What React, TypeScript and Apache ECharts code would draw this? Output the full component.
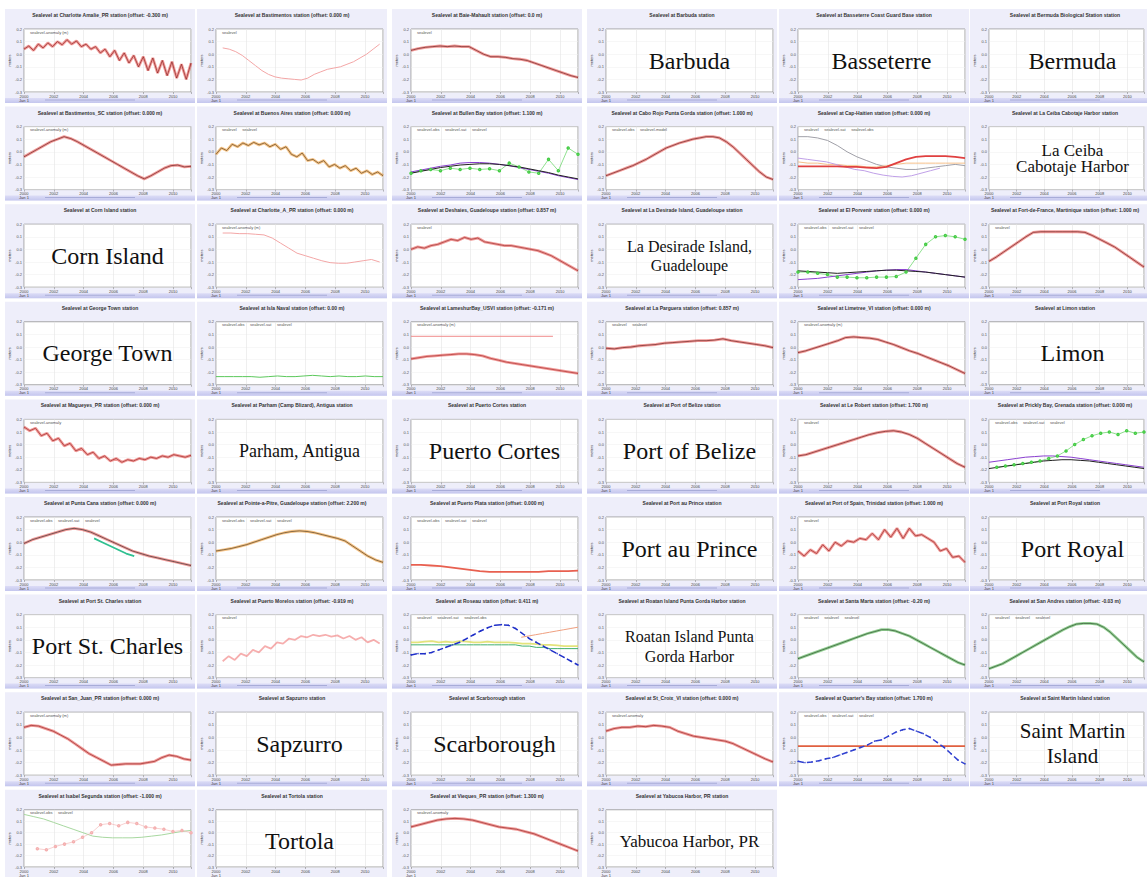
import React, { useEffect, useRef } from "react";
import * as echarts from "echarts";

// ---------- tick labels ----------
const X_TICKS = ["2000\nJan 1", "2002", "2004", "2006", "2008", "2010"];
const Y_TICKS = ["-0.3", "-0.2", "-0.1", "0.0", "0.1", "0.2"];

// ---------- series values (0 = bottom of plot, 10 = top) ----------
const CHARLOTTE_AMALIE = [6.8, 7.3, 6.6, 7.6, 7.0, 7.8, 7.2, 8.0, 7.5, 8.3, 7.6, 8.1, 7.2, 7.6, 6.8, 7.2, 6.2, 6.8, 5.6, 6.6, 5.0, 6.2, 4.6, 5.8, 4.0, 5.6, 3.4, 5.4, 3.0, 5.0, 2.6, 4.8, 2.2, 4.4, 2.0, 4.6];
const BASTIMENTOS = [7.0, 6.8, 6.4, 5.8, 5.0, 4.2, 3.4, 2.8, 2.4, 2.2, 2.1, 2.0, 1.9, 2.2, 2.8, 3.2, 3.6, 3.8, 4.0, 4.4, 4.8, 5.4, 6.0, 6.8, 7.6];
const BAIE_MAHAULT = [6.6, 6.9, 7.1, 7.2, 7.3, 7.2, 7.3, 7.2, 7.2, 6.6, 6.0, 5.6, 5.6, 5.5, 5.3, 5.2, 5.0, 4.6, 4.2, 3.8, 3.4, 3.0, 2.6, 2.3];
const BASTIMENTOS_SC = [5.2, 5.8, 6.4, 7.0, 7.6, 8.0, 8.4, 8.1, 7.6, 7.0, 6.4, 5.8, 5.2, 4.6, 4.0, 3.4, 2.8, 2.2, 1.7, 2.2, 2.8, 3.4, 3.8, 3.9, 3.6, 3.7];
const BUENOS_AIRES = [5.6, 6.6, 6.2, 7.2, 6.8, 7.4, 7.0, 7.5, 7.1, 7.4, 6.8, 7.2, 6.4, 6.8, 5.6, 5.2, 5.8, 4.6, 4.8, 4.2, 4.6, 3.6, 4.0, 3.4, 3.8, 3.0, 3.4, 2.6, 3.0, 2.4, 2.8, 2.2];
const BULLEN_BLACK = [2.6, 2.9, 3.2, 3.5, 3.7, 3.9, 4.0, 4.1, 4.1, 4.0, 3.8, 3.6, 3.3, 3.0, 2.7, 2.3, 2.0, 1.7];
const BULLEN_PURPLE = [2.8, 3.1, 3.4, 3.7, 3.9, 4.2, 4.3, 4.3, 4.2, 4.0, 3.8, 3.5, 3.2, 2.9, 2.6, 2.2, 1.9, 1.6];
const BULLEN_GREEN = [2.6, 3.0, 3.2, 3.0, 3.4, 3.2, 3.4, 3.2, 3.3, 3.0, 4.2, 3.6, 2.8, 2.6, 4.8, 3.0, 6.6, 5.6];
const CABO_ROJO = [2.2, 2.6, 3.0, 3.4, 3.8, 4.3, 4.8, 5.4, 6.0, 6.6, 7.0, 7.4, 7.7, 8.0, 8.2, 8.4, 8.4, 8.2, 7.6, 6.8, 5.8, 4.8, 3.8, 2.8, 2.0, 1.6];
const CAP_GREY = [8.4, 8.4, 8.2, 7.8, 7.0, 6.0, 5.2, 4.6, 4.0, 3.6, 3.4, 3.2, 3.2, 3.4, 3.6, 3.8, 4.0, 3.8];
const CAP_RED = [3.7, 3.7, 3.7, 3.7, 3.7, 3.6, 3.6, 3.5, 3.4, 3.6, 4.2, 4.8, 5.2, 5.3, 5.3, 5.3, 5.2, 5.0];
const CAP_PURPLE = [5.0, 4.8, 4.6, 4.4, 4.0, 3.6, 3.2, 3.0, 2.6, 2.3, 2.1, 2.0, 2.2, 2.6, 3.0, 3.4];
const CAP_ORANGE = [4.4, 4.2, 4.2, 4.0, 4.0, 3.8, 3.8, 3.6, 3.6, 3.8, 4.0, 4.2, 4.2, 4.2, 4.2, 4.2, 4.2, 4.2];
const CHARLOTTE_A = [8.6, 8.6, 8.5, 8.5, 8.4, 8.3, 7.8, 7.0, 6.2, 5.4, 5.0, 4.6, 4.2, 3.9, 3.8, 3.8, 4.0, 4.2, 4.4, 4.0];
const DESHAIES = [6.0, 6.4, 6.2, 6.6, 6.8, 7.2, 7.6, 7.4, 7.9, 7.6, 7.8, 7.2, 7.0, 6.8, 6.6, 6.6, 6.4, 6.2, 6.0, 5.8, 5.4, 5.0, 4.4, 3.8, 3.2, 2.6];
const PORVENIR_GREEN = [2.4, 2.4, 2.2, 2.0, 1.6, 1.6, 1.5, 1.5, 1.6, 1.6, 1.7, 2.4, 4.6, 6.8, 8.0, 8.2, 8.0, 7.6];
const PORVENIR_PURPLE = [1.2, 1.3, 1.4, 1.6, 1.8, 2.0, 2.2, 2.4, 2.6, 2.7, 2.8, 2.8, 2.6, 2.4, 2.2, 2.0, 1.8, 1.6];
const PORVENIR_BLACK = [2.6, 2.5, 2.4, 2.3, 2.2, 2.3, 2.4, 2.5, 2.6, 2.7, 2.7, 2.6, 2.5, 2.4, 2.2, 2.0, 1.8, 1.6];
const FORT_DE_FRANCE = [4.1, 4.8, 5.6, 6.4, 7.2, 8.0, 8.7, 8.8, 8.8, 8.8, 8.8, 8.8, 8.8, 8.7, 8.2, 7.6, 7.0, 6.4, 5.6, 4.8, 4.0, 3.2];
const ISLA_NAVAL = [1.3, 1.3, 1.3, 1.3, 1.3, 1.2, 1.3, 1.4, 1.3, 1.3, 1.4, 1.5, 1.4, 1.3, 1.4, 1.3, 1.3, 1.4, 1.3, 1.3];
const LAMESHUR = [4.1, 4.3, 4.5, 4.6, 4.7, 4.8, 4.9, 4.9, 4.8, 4.6, 4.2, 3.9, 3.6, 3.4, 3.2, 3.0, 2.8, 2.6, 2.4, 2.2, 2.0, 1.8];
const LAMESHUR_REF = [7.7, 7.7];
const LA_PARGUERA = [5.8, 5.7, 5.9, 6.0, 6.2, 6.3, 6.4, 6.6, 6.7, 6.8, 6.9, 7.0, 7.0, 7.1, 7.3, 7.0, 6.8, 6.6, 6.4, 6.2, 5.9];
const LIMETREE = [5.1, 5.4, 5.8, 6.2, 6.6, 7.0, 7.5, 7.6, 7.5, 7.4, 7.2, 6.8, 6.4, 5.9, 5.4, 5.0, 4.5, 4.0, 3.5, 3.0, 2.4, 1.8];
const MAGUEYES = [8.8, 8.2, 8.6, 7.4, 7.8, 6.6, 7.0, 5.8, 6.2, 5.0, 5.4, 4.4, 4.8, 3.8, 4.2, 3.4, 3.8, 3.2, 3.6, 3.4, 3.8, 3.6, 4.0, 3.8, 4.2, 4.0, 4.4, 4.2, 4.0, 4.3];
const LE_ROBERT = [4.2, 4.4, 4.8, 5.2, 5.6, 6.0, 6.4, 6.8, 7.2, 7.6, 7.9, 8.1, 8.2, 8.0, 7.6, 7.0, 6.2, 5.4, 4.6, 3.8, 3.0, 2.4];
const PRICKLY_GREEN = [2.4, 2.6, 2.8, 3.0, 3.2, 3.4, 3.8, 4.2, 5.0, 6.0, 6.8, 7.4, 7.8, 8.0, 7.6, 8.2, 7.8, 8.0];
const PRICKLY_PURPLE = [3.2, 3.4, 3.6, 3.8, 4.0, 4.1, 4.2, 4.2, 4.1, 4.0, 3.8, 3.6, 3.4, 3.2, 3.0, 2.8, 2.6, 2.4];
const PRICKLY_BLACK = [2.2, 2.4, 2.6, 2.8, 3.0, 3.2, 3.4, 3.5, 3.6, 3.6, 3.5, 3.4, 3.2, 3.0, 2.8, 2.6, 2.4, 2.2];
const PUNTA_CANA = [5.8, 6.4, 6.8, 7.2, 7.6, 8.0, 8.2, 8.0, 7.6, 7.0, 6.4, 5.8, 5.2, 4.6, 4.2, 3.8, 3.5, 3.2, 2.9, 2.6, 2.3];
const PUNTA_CANA_GREEN = [6.6, 6.0, 5.4, 4.8, 4.2, 3.8];
const POINTE_A_PITRE = [4.6, 4.8, 5.0, 5.3, 5.6, 6.0, 6.4, 6.8, 7.2, 7.5, 7.7, 7.8, 7.7, 7.5, 7.2, 6.9, 6.6, 6.2, 5.4, 4.6, 3.8, 3.2, 2.8];
const PUERTO_PLATA = [2.4, 2.4, 2.3, 2.2, 2.0, 1.8, 1.6, 1.4, 1.3, 1.3, 1.3, 1.3, 1.3, 1.3, 1.4, 1.4, 1.4, 1.5];
const PORT_OF_SPAIN = [4.6, 3.8, 4.8, 4.2, 5.6, 4.6, 6.0, 5.4, 6.2, 6.0, 6.6, 6.4, 7.4, 6.4, 8.0, 6.8, 8.2, 6.6, 8.2, 7.0, 7.2, 6.6, 6.0, 4.6, 5.0, 3.6, 3.8, 2.8];
const PUERTO_MORELOS = [2.6, 3.4, 2.8, 3.8, 3.4, 4.4, 4.0, 5.0, 4.6, 5.6, 5.4, 6.2, 6.0, 6.6, 6.4, 6.8, 6.6, 6.8, 6.5, 6.7, 6.2, 6.6, 6.0, 6.4, 5.6, 6.0, 5.4];
const ROSEAU_BLUE = [3.6, 3.8, 3.8, 4.0, 4.4, 4.8, 5.2, 5.6, 6.2, 6.8, 7.4, 7.9, 8.3, 8.4, 8.3, 7.8, 7.0, 6.2, 5.6, 5.0, 4.4, 3.8, 3.2, 2.6, 2.0];
const ROSEAU_YELLOW = [5.6, 5.6, 5.7, 5.8, 5.6, 5.7, 5.6, 5.8, 5.7, 5.6, 5.6, 5.7, 5.6, 5.6, 5.6, 5.5, 5.4, 5.4, 5.3, 5.2, 5.2, 5.1, 5.0, 5.0, 5.0];
const ROSEAU_GREEN = [5.2, 5.2, 5.2, 5.2, 5.2, 5.2, 5.2, 5.2, 5.2, 5.2, 5.2, 5.2, 5.2, 5.2, 5.2, 5.2, 5.0, 5.0, 4.8, 4.8, 4.6, 4.6, 4.6, 4.6, 4.6];
const ROSEAU_ORANGE = [6.4, 6.6, 6.8, 7.0, 7.2, 7.4, 7.6, 7.8, 8.0];
const SANTA_MARTA = [3.0, 3.4, 3.8, 4.2, 4.6, 5.0, 5.4, 5.8, 6.2, 6.6, 7.0, 7.3, 7.6, 7.6, 7.4, 7.0, 6.6, 6.0, 5.4, 4.8, 4.2, 3.6, 3.0, 2.4, 2.0];
const SAN_ANDRES = [1.4, 1.8, 2.2, 2.8, 3.4, 4.0, 4.6, 5.2, 5.8, 6.4, 7.0, 7.6, 8.1, 8.5, 8.6, 8.6, 8.5, 8.0, 7.2, 6.2, 5.2, 4.2, 3.2, 2.5];
const SAN_JUAN = [7.6, 7.9, 7.8, 7.4, 7.0, 6.4, 5.8, 5.0, 4.2, 3.4, 2.8, 2.2, 1.6, 1.7, 1.8, 1.8, 1.8, 2.0, 2.2, 2.8, 3.2, 3.0, 2.6, 2.4];
const ST_CROIX = [7.0, 7.4, 7.6, 7.6, 7.8, 7.7, 7.9, 7.8, 7.6, 7.0, 6.6, 6.2, 6.0, 5.8, 5.6, 5.4, 5.0, 4.4, 3.8, 3.2, 2.6, 2.1];
const QUARTERS_BAY = [2.2, 2.0, 2.1, 2.3, 2.6, 2.8, 3.2, 3.6, 4.0, 4.4, 4.8, 5.4, 5.6, 6.2, 6.8, 7.2, 7.4, 7.0, 6.6, 6.0, 5.2, 4.4, 3.4, 2.4, 1.8];
const QUARTERS_REF = [4.6, 4.6];
const ISABEL_GREEN = [9.2, 8.8, 8.4, 7.8, 7.2, 6.6, 6.0, 5.4, 5.2, 5.1, 5.1, 5.1, 5.2, 5.4, 5.6, 5.9, 6.2, 6.4];
const ISABEL_PINK = [3.2, 3.0, 3.6, 4.0, 4.4, 5.2, 6.0, 7.4, 7.6, 7.2, 7.8, 7.6, 7.0, 6.8, 6.6, 6.2, 6.4, 6.0];
const VIEQUES = [7.0, 7.4, 7.8, 8.2, 8.4, 8.5, 8.4, 8.2, 7.8, 7.4, 7.0, 6.8, 6.6, 6.2, 5.8, 5.2, 4.6, 4.0, 3.4, 2.8];

// ---------- station panels, in reading order ----------
type S = { data: number[]; kind: string; color: string; dark?: string; start?: number; end?: number };
type P = { title: string; label?: string; size?: number; lh?: number; legend?: string; series?: S[] };

const RED_BAND = "rgba(229,57,53,0.5)";
const ORANGE_BAND = "rgba(240,150,40,0.55)";
const GREEN_BAND = "rgba(60,170,60,0.55)";
const PINK = "#f3a6a6";

const PANELS: P[] = [
  { title: "Sealevel at Charlotte Amalie_PR station (offset: -0.300 m)", legend: "sealevel-anomaly (m)", series: [{ data: CHARLOTTE_AMALIE, kind: "band", color: RED_BAND, dark: "#7a1010" }] },
  { title: "Sealevel at Bastimentos station (offset: 0.000 m)", legend: "sealevel", series: [{ data: BASTIMENTOS, kind: "thin", color: PINK, start: 0.04, end: 0.98 }] },
  { title: "Sealevel at Baie-Mahault station (offset: 0.0 m)", legend: "sealevel", series: [{ data: BAIE_MAHAULT, kind: "band", color: RED_BAND, dark: "#5a1010" }] },
  { title: "Sealevel at Barbuda station", label: "Barbuda" },
  { title: "Sealevel at Basseterre Coast Guard Base station", label: "Basseterre" },
  { title: "Sealevel at Bermuda Biological Station station", label: "Bermuda" },

  { title: "Sealevel at Bastimentos_SC station (offset: 0.000 m)", legend: "sealevel-anomaly (m)", series: [{ data: BASTIMENTOS_SC, kind: "band", color: RED_BAND, dark: "#5a1010" }] },
  { title: "Sealevel at Buenos Aires station (offset: 0.000 m)", legend: "sealevel     sealevel", series: [{ data: BUENOS_AIRES, kind: "band", color: ORANGE_BAND, dark: "#4a3010" }] },
  { title: "Sealevel at Bullen Bay station (offset: 1.100 m)", legend: "sealevel-obs     sealevel-sat     sealevel", series: [
    { data: BULLEN_GREEN, kind: "dots", color: "#44cc44" },
    { data: BULLEN_PURPLE, kind: "thin", color: "#8a3fd0" },
    { data: BULLEN_BLACK, kind: "thin", color: "#202020" },
  ] },
  { title: "Sealevel at Cabo Rojo Punta Gorda station (offset: 1.000 m)", legend: "sealevel-obs     sealevel-model", series: [{ data: CABO_ROJO, kind: "band", color: RED_BAND, dark: "#5a1010" }] },
  { title: "Sealevel at Cap-Haitien station (offset: 0.000 m)", legend: "sealevel     sealevel-sat     sealevel-obs", series: [
    { data: CAP_GREY, kind: "thin", color: "#a0a0a8" },
    { data: CAP_ORANGE, kind: "thin", color: "#f6c08a" },
    { data: CAP_PURPLE, kind: "thin", color: "#c0a0e8", end: 0.85 },
    { data: CAP_RED, kind: "thick", color: "#e04040" },
  ] },
  { title: "Sealevel at La Ceiba Cabotaje Harbor station", label: "La Ceiba\nCabotaje Harbor", size: 17, lh: 16 },

  { title: "Sealevel at Corn Island station", label: "Corn Island" },
  { title: "Sealevel at Charlotte_A_PR station (offset: 0.000 m)", legend: "sealevel-anomaly (m)", series: [{ data: CHARLOTTE_A, kind: "thin", color: PINK, start: 0.04, end: 0.98 }] },
  { title: "Sealevel at Deshaies, Guadeloupe station (offset: 0.857 m)", legend: "sealevel", series: [{ data: DESHAIES, kind: "band", color: RED_BAND, dark: "#902020" }] },
  { title: "Sealevel at La Desirade Island, Guadeloupe station", label: "La Desirade Island,\nGuadeloupe", size: 16, lh: 19 },
  { title: "Sealevel at El Porvenir station (offset: 0.000 m)", legend: "sealevel-obs     sealevel-sat     sealevel", series: [
    { data: PORVENIR_GREEN, kind: "dots", color: "#44cc44" },
    { data: PORVENIR_PURPLE, kind: "thin", color: "#8a3fd0" },
    { data: PORVENIR_BLACK, kind: "thin", color: "#202020" },
  ] },
  { title: "Sealevel at Fort-de-France, Martinique station (offset: 1.000 m)", legend: "sealevel", series: [{ data: FORT_DE_FRANCE, kind: "band", color: RED_BAND, dark: "#5a1010" }] },

  { title: "Sealevel at George Town station", label: "George Town" },
  { title: "Sealevel at Isla Naval station (offset: 0.00 m)", legend: "sealevel-obs     sealevel-sat     sealevel", series: [{ data: ISLA_NAVAL, kind: "thin", color: "#5cc85c" }] },
  { title: "Sealevel at LameshurBay_USVI station (offset: -0.171 m)", legend: "sealevel-anomaly (m)", series: [
    { data: LAMESHUR_REF, kind: "thin", color: "#f08a8a", end: 0.85 },
    { data: LAMESHUR, kind: "band", color: RED_BAND, dark: "#a02020" },
  ] },
  { title: "Sealevel at La Parguera station (offset: 0.857 m)", legend: "sealevel     sealevel", series: [{ data: LA_PARGUERA, kind: "band", color: RED_BAND, dark: "#5a1010" }] },
  { title: "Sealevel at Limetree_VI station (offset: 0.000 m)", legend: "sealevel-anomaly (m)", series: [{ data: LIMETREE, kind: "band", color: RED_BAND, dark: "#5a1010" }] },
  { title: "Sealevel at Limon station", label: "Limon" },

  { title: "Sealevel at Magueyes_PR station (offset: 0.000 m)", legend: "sealevel-anomaly", series: [{ data: MAGUEYES, kind: "band", color: RED_BAND, dark: "#901818" }] },
  { title: "Sealevel at Parham (Camp Blizard), Antigua station", label: "Parham, Antigua", size: 18 },
  { title: "Sealevel at Puerto Cortes station", label: "Puerto Cortes" },
  { title: "Sealevel at Port of Belize station", label: "Port of Belize" },
  { title: "Sealevel at Le Robert station (offset: 1.700 m)", legend: "sealevel", series: [{ data: LE_ROBERT, kind: "band", color: RED_BAND, dark: "#5a1010" }] },
  { title: "Sealevel at Prickly Bay, Grenada station (offset: 0.000 m)", legend: "sealevel-obs     sealevel-sat     sealevel", series: [
    { data: PRICKLY_GREEN, kind: "dots", color: "#44cc44", start: 0.05 },
    { data: PRICKLY_PURPLE, kind: "thin", color: "#8a3fd0" },
    { data: PRICKLY_BLACK, kind: "thin", color: "#202020" },
  ] },

  { title: "Sealevel at Punta Cana station (offset: 0.000 m)", legend: "sealevel-obs     sealevel-sat     sealevel", series: [
    { data: PUNTA_CANA, kind: "band", color: RED_BAND, dark: "#202020" },
    { data: PUNTA_CANA_GREEN, kind: "thick", color: "#30c090", start: 0.42, end: 0.66 },
  ] },
  { title: "Sealevel at Pointe-a-Pitre, Guadeloupe station (offset: 2.200 m)", legend: "sealevel-obs     sealevel-sat     sealevel", series: [{ data: POINTE_A_PITRE, kind: "band", color: ORANGE_BAND, dark: "#3a2a10" }] },
  { title: "Sealevel at Puerto Plata station (offset: 0.000 m)", legend: "sealevel-obs     sealevel-sat     sealevel", series: [{ data: PUERTO_PLATA, kind: "thick", color: "#e86050" }] },
  { title: "Sealevel at Port au Prince station", label: "Port au Prince" },
  { title: "Sealevel at Port of Spain, Trinidad station (offset: 1.000 m)", legend: "sealevel", series: [{ data: PORT_OF_SPAIN, kind: "band", color: RED_BAND, dark: "#8a1818" }] },
  { title: "Sealevel at Port Royal station", label: "Port Royal" },

  { title: "Sealevel at Port St. Charles station", label: "Port St. Charles" },
  { title: "Sealevel at Puerto Morelos station (offset: -0.919 m)", legend: "sealevel", series: [{ data: PUERTO_MORELOS, kind: "thick", color: "rgba(240,120,120,0.6)", start: 0.04, end: 0.98 }] },
  { title: "Sealevel at Roseau station (offset: 0.411 m)", legend: "sealevel     sealevel-sat     sealevel-obs", series: [
    { data: ROSEAU_YELLOW, kind: "thick", color: "rgba(220,220,90,0.8)" },
    { data: ROSEAU_GREEN, kind: "thin", color: "#40b070" },
    { data: ROSEAU_ORANGE, kind: "thin", color: "#f0a080", start: 0.66 },
    { data: ROSEAU_BLUE, kind: "blue", color: "#1f2fc8" },
  ] },
  { title: "Sealevel at Roatan Island Punta Gorda Harbor station", label: "Roatan Island Punta\nGorda Harbor", size: 16, lh: 20 },
  { title: "Sealevel at Santa Marta station (offset: -0.20 m)", legend: "sealevel     sealevel     sealevel", series: [{ data: SANTA_MARTA, kind: "band", color: GREEN_BAND, dark: "#1c3c1c" }] },
  { title: "Sealevel at San Andres station (offset: -0.03 m)", legend: "sealevel     sealevel     sealevel", series: [{ data: SAN_ANDRES, kind: "band", color: GREEN_BAND, dark: "#1c3c1c" }] },

  { title: "Sealevel at San_Juan_PR station (offset: 0.000 m)", legend: "sealevel-anomaly (m)", series: [{ data: SAN_JUAN, kind: "band", color: RED_BAND, dark: "#8a1818" }] },
  { title: "Sealevel at Sapzurro station", label: "Sapzurro" },
  { title: "Sealevel at Scarborough station", label: "Scarborough" },
  { title: "Sealevel at St_Croix_VI station (offset: 0.000 m)", legend: "sealevel-anomaly", series: [{ data: ST_CROIX, kind: "band", color: RED_BAND, dark: "#8a1818" }] },
  { title: "Sealevel at Quarter's Bay station (offset: 1.700 m)", legend: "sealevel-obs     sealevel-sat     sealevel", series: [
    { data: QUARTERS_REF, kind: "thick", color: "#e06040" },
    { data: QUARTERS_BAY, kind: "blue", color: "#3040d0" },
  ] },
  { title: "Sealevel at Saint Martin Island station", label: "Saint Martin\nIsland", size: 21, lh: 25 },

  { title: "Sealevel at Isabel Segunda station (offset: -1.000 m)", legend: "sealevel-obs     sealevel", series: [
    { data: ISABEL_GREEN, kind: "thin", color: "#a8d8a0" },
    { data: ISABEL_PINK, kind: "dots", color: "#f4b0b0", start: 0.08, end: 1 },
  ] },
  { title: "Sealevel at Tortola station", label: "Tortola" },
  { title: "Sealevel at Vieques_PR station (offset: 1.300 m)", legend: "sealevel-anomaly", series: [{ data: VIEQUES, kind: "band", color: RED_BAND, dark: "#8a1818" }] },
  { title: "Sealevel at Yabucoa Harbor, PR station", label: "Yabucoa Harbor, PR", size: 17 },
];

// ---------- layout ----------
const COL_X = [5, 197, 392, 587, 779, 970];
const PANEL_W = 190;
const PANEL_H = 94;
const ROW_Y0 = 9;
const ROW_PITCH = 97.6;
const XMAX = 5.6;

function buildOption() {
  const grid: any[] = [];
  const xAxis: any[] = [];
  const yAxis: any[] = [];
  const series: any[] = [];
  const graphic: any[] = [];

  PANELS.forEach((p, i) => {
    const row = Math.floor(i / 6);
    const col = i % 6;
    const x0 = COL_X[col];
    const y0 = ROW_Y0 + row * ROW_PITCH;
    const pl = x0 + 19;
    const pt = y0 + 20;
    const pw = 167;
    const ph = 63;

    graphic.push({ type: "rect", z: -10, silent: true, shape: { x: x0, y: y0, width: PANEL_W, height: PANEL_H }, style: { fill: "#eeeefa" } });
    graphic.push({
      type: "rect", z: -9, silent: true, shape: { x: x0, y: y0 + PANEL_H - 5, width: PANEL_W, height: 5 },
      style: { fill: new echarts.graphic.LinearGradient(0, 0, 0, 1, [{ offset: 0, color: "#dcdcf6" }, { offset: 1, color: "#c4c6ee" }]) },
    });
    graphic.push({ type: "rect", z: -8, silent: true, shape: { x: x0 + 40, y: y0 + PANEL_H - 3.5, width: 90, height: 1 }, style: { fill: "#a8acd8" } });
    graphic.push({
      type: "text", z: 50, silent: true, x: x0 + PANEL_W / 2, y: y0 + 6,
      style: { text: p.title, fill: "#333", font: "bold 5px 'Liberation Sans', Arial, sans-serif", textAlign: "center", textVerticalAlign: "middle" },
    });
    if (p.legend) {
      graphic.push({
        type: "text", z: 50, silent: true, x: pl + 6, y: pt + 3,
        style: { text: p.legend, fill: "#555", font: "4px 'Liberation Sans', Arial, sans-serif", textAlign: "left", textVerticalAlign: "middle" },
      });
    }
    if (p.label) {
      graphic.push({
        type: "text", z: 60, silent: true, x: pl + pw / 2, y: pt + ph / 2,
        style: {
          text: p.label, fill: "#111", textAlign: "center", textVerticalAlign: "middle",
          font: `${p.size || 24}px 'Liberation Serif', 'Times New Roman', serif`, lineHeight: p.lh || 24,
        },
      });
    }

    grid.push({ left: pl, top: pt, width: pw, height: ph, show: true, backgroundColor: "#ffffff", borderColor: "#8c8c8c", borderWidth: 0.8 });
    xAxis.push({
      gridIndex: i, type: "value", min: 0, max: XMAX, interval: 1,
      axisLine: { show: false },
      axisTick: { show: true, length: 2, lineStyle: { color: "#777", width: 0.5 } },
      axisLabel: {
        fontSize: 4, lineHeight: 4, color: "#444", margin: 2,
        formatter: (v: number) => X_TICKS[v] ?? "",
      },
      splitLine: { show: true, lineStyle: { color: "#e4e4e4", width: 0.6 } },
    });
    yAxis.push({
      gridIndex: i, type: "value", min: 0, max: 10, interval: 2,
      axisLine: { show: false }, axisTick: { show: false },
      axisLabel: { fontSize: 4, color: "#555", margin: 2, formatter: (v: number) => Y_TICKS[v / 2] ?? "" },
      splitLine: { show: true, lineStyle: { color: "#eeeeee", width: 0.5 } },
      name: "meters", nameLocation: "middle", nameGap: 11, nameTextStyle: { fontSize: 4, color: "#333" },
    });

    (p.series || []).forEach((s) => {
      const n = s.data.length;
      const a = s.start ?? 0;
      const b = s.end ?? 1;
      const pts = s.data.map((v, k) => [XMAX * (a + ((b - a) * k) / (n - 1)), v]);
      const base = { type: "line", xAxisIndex: i, yAxisIndex: i, data: pts, silent: true, animation: false, smooth: false };
      if (s.kind === "band") {
        series.push({ ...base, showSymbol: false, lineStyle: { color: s.color, width: 2.8 } });
        series.push({ ...base, showSymbol: false, lineStyle: { color: s.dark, width: 0.6 } });
      } else if (s.kind === "thin") {
        series.push({ ...base, showSymbol: false, lineStyle: { color: s.color, width: 1 } });
      } else if (s.kind === "thick") {
        series.push({ ...base, showSymbol: false, lineStyle: { color: s.color, width: 1.8 } });
      } else if (s.kind === "blue") {
        series.push({ ...base, showSymbol: true, symbol: "circle", symbolSize: 1.4, itemStyle: { color: s.color }, lineStyle: { color: s.color, width: 1.5, type: "dashed" } });
      } else {
        series.push({ ...base, showSymbol: true, symbol: "emptyCircle", symbolSize: 1.5, itemStyle: { color: s.color, borderWidth: 0.5 }, lineStyle: { color: s.color, width: 0.6 } });
      }
    });
  });

  return { animation: false, backgroundColor: "#ffffff", grid, xAxis, yAxis, series, graphic };
}

export default function App() {
  const ref = useRef<HTMLDivElement>(null);
  useEffect(() => {
    document.body.style.margin = "0";
    if (!ref.current) return;
    const chart = echarts.init(ref.current, undefined, { renderer: "svg" });
    chart.setOption(buildOption() as any);
    return () => chart.dispose();
  }, []);
  return <div ref={ref} style={{ width: 1147, height: 877 }} />;
}
